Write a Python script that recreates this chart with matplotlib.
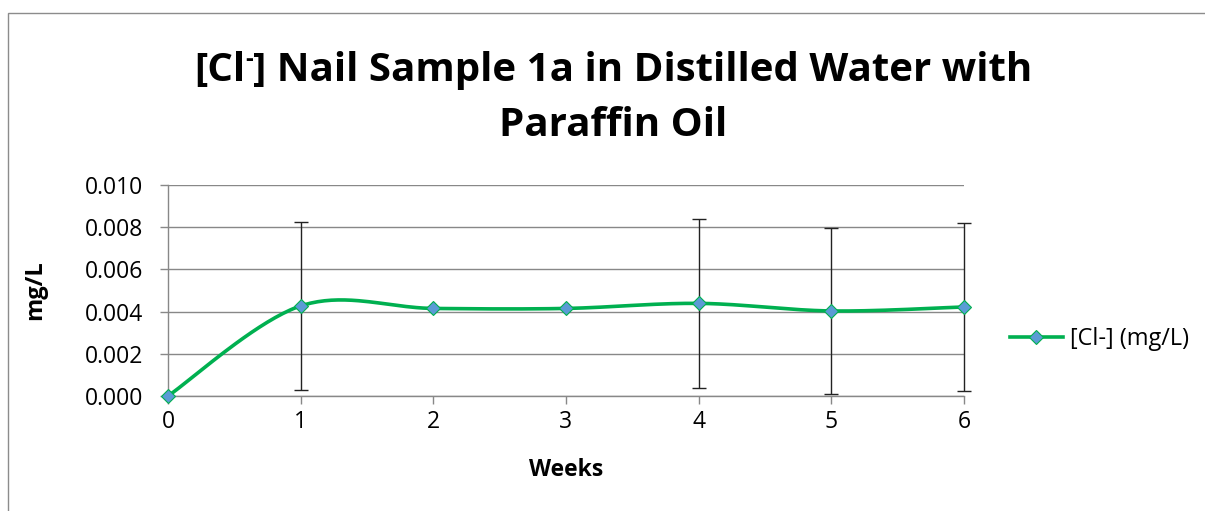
import numpy as np
import matplotlib
matplotlib.use("Agg")
import matplotlib.pyplot as plt
from matplotlib.patches import Rectangle
from matplotlib.lines import Line2D

plt.rcParams['font.family'] = ['Open Sans', 'DejaVu Sans']

weeks = [0, 1, 2, 3, 4, 5, 6]
conc = [0.0, 0.00427, 0.00415, 0.00415, 0.00439, 0.00403, 0.00422]
conc_err = [0.0, 0.00398, 0.0, 0.0, 0.0040, 0.00395, 0.00398]
yticks = [0.000, 0.002, 0.004, 0.006, 0.008, 0.010]

title_parts = ["[Cl", "-", "] Nail Sample 1a in Distilled Water with"]
title_line2 = "Paraffin Oil"
series_label = "[Cl-] (mg/L)"

W, H = 1205, 511


def excel_smooth(x, y, n=40):
    # bezier segments like Excel's "smoothed line"
    x = np.asarray(x, float)
    y = np.asarray(y, float)
    px = np.concatenate([[x[0]], x, [x[-1]]])
    py = np.concatenate([[y[0]], y, [y[-1]]])
    xs, ys = [], []
    t = np.linspace(0, 1, n)
    for i in range(1, len(px) - 2):
        p0 = np.array([px[i - 1], py[i - 1]])
        p1 = np.array([px[i], py[i]])
        p2 = np.array([px[i + 1], py[i + 1]])
        p3 = np.array([px[i + 2], py[i + 2]])
        c1 = p1 + (p2 - p0) / 6
        c2 = p2 - (p3 - p1) / 6
        b = ((1 - t) ** 3)[:, None] * p1 + (3 * (1 - t) ** 2 * t)[:, None] * c1 \
            + (3 * (1 - t) * t ** 2)[:, None] * c2 + (t ** 3)[:, None] * p2
        xs.extend(b[:, 0])
        ys.extend(b[:, 1])
    return xs, ys


fig = plt.figure(figsize=(W / 100, H / 100), dpi=100)
fig.patches.append(Rectangle((8 / W, -0.1), 1.2, 1 - 13 / H + 0.1, transform=fig.transFigure,
                             fill=False, edgecolor='#8c8c8c', linewidth=1.0))

ax = fig.add_axes([168 / W, 1 - 396 / H, (964 - 168) / W, (396 - 185) / H])

gray = '#888888'
green = '#00B050'
blue = '#5B9BD5'

sx, sy = excel_smooth(weeks, conc)
ax.plot(sx, sy, color=green, linewidth=2.6, clip_on=False, zorder=3, solid_capstyle='round')
err_idx = [i for i, e in enumerate(conc_err) if e > 0]
eb = ax.errorbar([weeks[i] for i in err_idx], [conc[i] for i in err_idx],
                 yerr=[conc_err[i] for i in err_idx],
                 fmt='none', ecolor='#222222', elinewidth=1.0, capsize=5, capthick=1.0, zorder=4)
for art in eb.lines[1] + eb.lines[2]:
    art.set_clip_on(False)
ax.plot(weeks, conc, linestyle='none', marker='D', markersize=7, markerfacecolor=blue,
        markeredgecolor=green, markeredgewidth=0.8, clip_on=False, zorder=5)

ax.set_xlim(0, 6)
ax.set_ylim(0, 0.010)
ax.set_xticks(weeks)
ax.set_yticks(yticks)
ax.set_yticklabels([f"{v:.3f}" for v in yticks])
ax.grid(axis='y', color=gray, linewidth=1.0)
ax.set_axisbelow(True)
for s in ['top', 'right']:
    ax.spines[s].set_visible(False)
for s in ['left', 'bottom']:
    ax.spines[s].set_color(gray)
    ax.spines[s].set_linewidth(1.0)
ax.tick_params(axis='both', direction='out', length=6, width=1.0, color=gray, labelsize=16.5,
               labelcolor='black')
ax.tick_params(axis='y', pad=12)
ax.tick_params(axis='x', pad=4)

ax.set_xlabel("Weeks", fontsize=16.5, fontweight='bold')
ax.xaxis.set_label_coords(0.5, -(470 - 396) / (396 - 185), transform=ax.transAxes)
ax.xaxis.label.set_va('center')
ax.set_ylabel("mg/L", fontsize=17, fontweight='bold')
ax.yaxis.set_label_coords(-(168 - 35) / (964 - 168), 0.5)
ax.yaxis.label.set_va('center')

# title line 1 built from pieces so the superscript minus is small
fig.canvas.draw()
r = fig.canvas.get_renderer()
sizes = [29, 17, 29]
base1 = 1 - 81 / H
texts = []
for txt, fs in zip(title_parts, sizes):
    t = fig.text(0, base1, txt, fontsize=fs, fontweight='bold', va='baseline', ha='left')
    texts.append(t)
widths = [t.get_window_extent(r).width for t in texts]
x0 = 613.5 - sum(widths) / 2
for t, w in zip(texts, widths):
    t.set_x(x0 / W)
    x0 += w
texts[1].set_y(1 - 66 / H)
fig.text(613.5 / W, 1 - 136 / H, title_line2, fontsize=29, fontweight='bold', va='baseline',
         ha='center')

ax.legend([Line2D([], [], color=green, linewidth=2.6, marker='D', markersize=7, markerfacecolor=blue,
                  markeredgecolor=green, markeredgewidth=0.8)], [series_label],
          loc='center left', bbox_to_anchor=(1010 / W, 1 - 339 / H),
          bbox_transform=fig.transFigure, frameon=False, fontsize=16.9, handlelength=2.25,
          handletextpad=0.3, borderaxespad=0, borderpad=0)

fig.savefig("out.png", dpi=100)
